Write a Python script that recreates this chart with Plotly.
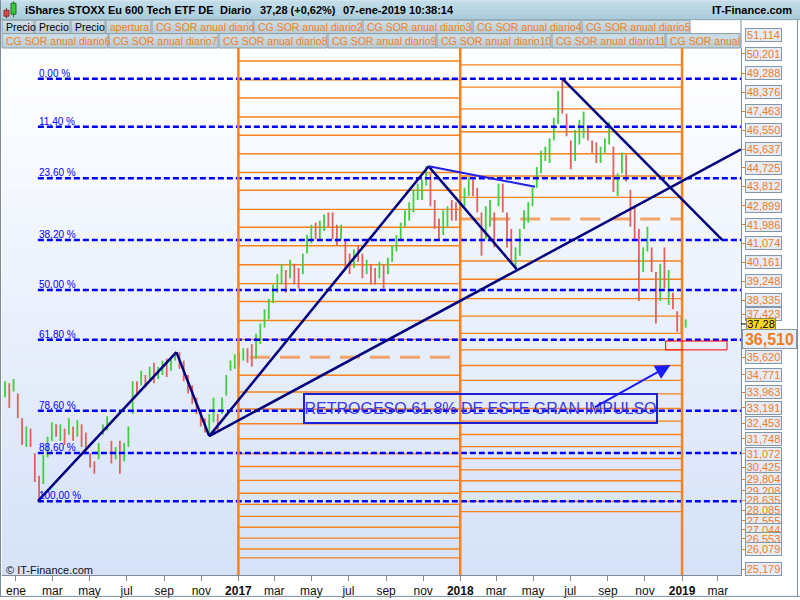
import plotly.graph_objects as go
import pandas as pd

# ---------------- data ----------------
week_start = "2015-12-14"
wk_low = [33.7, 33.2, 34.0, 32.7, 31.4, 31.3, 31.3, 29.6, 28.67, 29.5,
          30.8, 31.6, 31.8, 31.6, 31.4, 31.9, 31.6, 31.8, 31.3, 31.0,
          30.3, 30.0, 30.7, 31.9, 32.1, 30.5, 30.7, 30.0, 30.6, 31.3,
          32.9, 33.8, 34.3, 34.2, 34.6, 34.4, 34.6, 34.8, 34.7, 35.0,
          35.5, 35.1, 34.5, 33.9, 33.4, 32.9, 32.3, 32.0, 31.83, 32.5,
          32.1, 32.9, 33.8, 35.0, 35.1, 35.2, 35.5, 35.4, 35.2, 35.6,
          36.3, 37.1, 37.5, 38.3, 38.8, 39.2, 38.8, 39.5, 39.2, 39.0,
          39.7, 40.7, 41.2, 41.4, 41.3, 41.8, 42.0, 41.4, 41.1, 41.4,
          40.0, 39.7, 40.0, 40.3, 39.5, 39.7, 39.2, 39.2, 39.5, 39.0,
          39.7, 40.3, 40.8, 41.4, 42.0, 42.3, 42.7, 43.3, 43.3, 44.0,
          43.0, 41.9, 41.4, 41.6, 42.0, 42.3, 42.3, 42.5, 43.0, 43.5,
          43.5, 42.7, 40.6, 41.4, 42.0, 41.0, 43.0, 42.7, 41.0, 40.2,
          39.94, 40.6, 41.9, 42.2, 43.0, 43.9, 44.6, 45.2, 45.1, 46.2,
          47.0, 47.5, 46.4, 44.8, 45.2, 46.0, 46.3, 46.2, 45.6, 45.1,
          45.1, 45.6, 46.0, 43.7, 43.5, 44.6, 44.2, 42.0, 41.4, 38.4,
          39.8, 40.8, 39.8, 37.3, 38.4, 39.0, 38.2, 38.0, 36.9, 36.8,
          37.1]
wk_high = [34.5, 34.4, 34.6, 33.9, 32.7, 32.3, 32.2, 31.0, 29.9, 30.9,
           31.8, 32.5, 32.4, 32.4, 32.2, 32.7, 32.3, 32.6, 32.4, 32.0,
           31.0, 30.6, 31.5, 32.4, 32.8, 31.6, 31.3, 31.6, 31.5, 32.3,
           34.5, 34.5, 35.0, 34.8, 35.2, 35.4, 35.2, 35.5, 35.6, 35.6,
           35.91, 35.9, 35.5, 34.8, 34.3, 33.7, 33.1, 32.7, 32.9, 33.7,
           32.9, 33.7, 34.8, 35.5, 35.8, 35.9, 36.1, 36.1, 36.3, 36.8,
           37.3, 38.0, 38.5, 39.2, 39.7, 40.2, 39.9, 40.4, 40.2, 40.0,
           40.7, 41.6, 42.1, 42.2, 42.3, 42.6, 42.7, 42.7, 42.1, 42.1,
           41.4, 40.7, 40.9, 41.1, 40.7, 40.4, 40.2, 40.0, 40.3, 40.2,
           40.5, 41.1, 41.6, 42.2, 42.8, 43.2, 43.8, 44.1, 44.3, 44.94,
           44.6, 43.3, 42.4, 42.8, 43.0, 43.3, 43.2, 43.3, 43.9, 44.4,
           44.3, 43.9, 42.7, 43.0, 43.3, 42.7, 44.1, 44.1, 42.7, 41.9,
           41.0, 41.9, 42.8, 43.2, 43.9, 44.9, 45.7, 45.9, 46.3, 47.3,
           48.6, 49.2, 47.5, 46.2, 46.7, 47.2, 47.6, 46.8, 46.2, 46.1,
           45.9, 46.3, 47.1, 45.9, 44.6, 45.6, 45.5, 43.8, 43.0, 41.9,
           41.0, 42.0, 41.0, 39.8, 40.2, 41.0, 39.9, 38.8, 37.9, 37.6,
           37.5]
wk_close = [34.2, 33.6, 34.4, 33.0, 31.9, 31.9, 31.6, 30.0, 29.6, 30.8,
            31.0, 32.3, 32.0, 32.3, 31.8, 32.4, 31.8, 32.5, 31.7, 31.2,
            30.5, 30.2, 31.3, 32.3, 32.5, 30.9, 31.2, 30.3, 31.4, 32.2,
            34.3, 34.1, 34.8, 34.7, 35.1, 34.9, 34.9, 35.3, 35.0, 35.5,
            35.8, 35.6, 34.8, 34.4, 33.6, 33.1, 32.5, 32.3, 32.6, 33.5,
            32.5, 33.6, 34.6, 35.4, 35.6, 35.8, 35.9, 35.6, 35.5, 36.7,
            37.2, 37.9, 38.2, 39.0, 39.1, 40.0, 39.2, 40.1, 39.6, 39.4,
            40.6, 41.4, 42.0, 41.8, 42.1, 42.5, 42.4, 41.6, 41.5, 41.7,
            40.3, 40.0, 40.8, 40.5, 39.8, 40.2, 39.5, 39.4, 40.0, 39.6,
            40.3, 40.9, 41.4, 42.1, 42.7, 43.0, 43.4, 43.9, 44.1, 44.5,
            43.3, 42.2, 41.6, 42.6, 42.8, 42.6, 42.4, 43.2, 43.7, 44.2,
            43.8, 42.9, 41.2, 42.6, 42.8, 41.6, 43.8, 43.0, 41.3, 40.5,
            40.8, 41.7, 42.6, 42.9, 43.7, 44.7, 45.4, 45.5, 46.0, 47.0,
            48.2, 47.8, 46.7, 45.6, 46.4, 46.9, 47.2, 46.4, 45.8, 45.3,
            45.8, 46.2, 46.8, 44.0, 44.3, 45.2, 44.4, 42.3, 41.8, 39.2,
            40.7, 41.3, 40.1, 38.3, 39.8, 39.2, 39.4, 38.1, 37.2, 37.0,
            37.28]
last_price = 37.28

# annual "CG SOR" levels per year column
lv2017 = [50.06, 49.14, 48.26, 47.34, 46.45, 45.55, 44.64, 43.78, 42.85, 41.98,
          41.08, 40.16, 39.24, 38.37, 37.45, 36.53, 34.79, 33.97, 33.15, 32.43,
          31.70, 30.98, 30.35, 29.68, 29.05, 28.51, 27.93, 27.40, 26.87, 26.34, 25.91]
lv2017_dash = 35.66
lv2017_dash_span = ["2017-01-20", "2017-12-19"]
lv2018 = [49.87, 48.79, 47.73, 46.62, 45.55, 44.47, 43.43, 40.34, 39.45, 38.51,
          37.66, 36.82, 36.02, 35.26, 34.54, 33.88, 33.17, 32.56, 31.91, 31.32,
          30.74, 30.19, 29.66, 29.13, 28.66, 28.16]
lv2018_dash = 42.38
lv2018_dash_span = ["2018-01-01", "2018-12-31"]
year_starts = ["2017-01-01", "2018-01-01", "2019-01-01"]

# right axis level labels
axis_labels = ["51,114", "50,201", "49,288", "48,376", "47,463", "46,550", "45,637",
               "44,725", "43,812", "42,899", "41,986", "41,074", "40,161", "39,248",
               "38,335", "37,423", "36,510", "35,620", "34,771", "33,963", "33,191",
               "32,453", "31,748", "31,072", "30,425", "29,804", "29,208", "28,635",
               "28,085", "27,555", "27,044", "26,553", "26,079", "25,179"]
axis_label_pos = [51.32, 50.40, 49.47, 48.55, 47.61, 46.69, 45.78, 44.88, 43.96, 43.02,
                  42.10, 41.19, 40.27, 39.35, 38.43, 37.74, 36.57, 35.67, 34.82, 33.97,
                  33.20, 32.45, 31.70, 30.98, 30.32, 29.74, 29.17, 28.71, 28.23, 27.72,
                  27.28, 26.85, 26.32, 25.35]
big_label = "36,510"

# Fibonacci retracement
fib_pcts = [0, 11.4, 23.6, 38.2, 50, 61.8, 78.6, 88.6, 100]
fib_texts = ["0,00 %", "11,40 %", "23,60 %", "38,20 %", "50,00 %", "61,80 %",
             "78,60 %", "88,60 %", "100,00 %"]
fib_high, fib_low = 49.20, 28.67
fib_start = "2016-02-06"

# trend lines (navy) : (date0, price0, date1, price1)
trend_lines = [("2016-02-06", 28.67, "2016-09-21", 35.91),
               ("2016-09-21", 35.91, "2016-11-14", 31.83),
               ("2016-11-14", 31.83, "2017-11-10", 44.94),
               ("2016-11-14", 31.83, "2019-04-08", 45.76),
               ("2017-11-10", 44.94, "2018-04-04", 39.94),
               ("2018-06-18", 49.20, "2019-03-08", 41.36)]
thin_line = ("2017-11-10", 44.94, "2018-05-04", 43.95)

red_box = ("2018-12-05", 36.02, "2019-03-16", 36.45)
note_text = "RETROGESO 61.8% DE ESTE GRAN IMPULSO"
note_center = ("2018-02-04", 33.15)
arrow_tail = ("2018-08-08", 33.2)
arrow_head = ("2018-12-13", 35.29)

x_range = ["2015-12-09", "2019-04-08"]
y_range = [25.08, 50.69]

tick_dates = ["2016-01-01", "2016-03-01", "2016-05-01", "2016-07-01", "2016-09-01", "2016-11-01",
              "2017-01-01", "2017-03-01", "2017-05-01", "2017-07-01", "2017-09-01", "2017-11-01",
              "2018-01-01", "2018-03-01", "2018-05-01", "2018-07-01", "2018-09-01", "2018-11-01",
              "2019-01-01", "2019-03-01"]
tick_text = ["ene", "mar", "may", "jul", "sep", "nov", "<b>2017</b>", "mar", "may", "jul", "sep", "nov",
             "<b>2018</b>", "mar", "may", "jul", "sep", "nov", "<b>2019</b>", "mar"]

legend_row1 = [("Precio", 2, 34, "#000000"), ("Precio", 35, 70, "#000000"), ("Precio", 71, 105, "#000000"),
               ("apertura", 106, 151, "#f0801e"), ("CG SOR anual diario", 152, 253, "#f0801e"),
               ("CG SOR anual diario2", 254, 362, "#f0801e"), ("CG SOR anual diario3", 363, 472, "#f0801e"),
               ("CG SOR anual diario4", 473, 581, "#f0801e"), ("CG SOR anual diario5", 582, 690, "#f0801e")]
legend_row2 = [("CG SOR anual diario6", 2, 108), ("CG SOR anual diario7", 109, 218),
               ("CG SOR anual diario8", 219, 327), ("CG SOR anual diario9", 328, 436),
               ("CG SOR anual diario10", 437, 551), ("CG SOR anual diario11", 552, 665),
               ("CG SOR anual", 666, 740)]

# ---------------- geometry helpers ----------------
W, H = 800, 600
ML, MR, MT, MB = 2, 59, 48, 22
PW, PH = W - ML - MR, H - MT - MB
FONT = "Liberation Sans, Arial, sans-serif"


def px(x):
    return (x - ML) / PW


def py(y):
    return (H - MB - y) / PH


def yv_paper(v):
    return (v - y_range[0]) / (y_range[1] - y_range[0])


def lerp(c1, c2, t):
    return "rgb(%d,%d,%d)" % tuple(round(a + (b - a) * t) for a, b in zip(c1, c2))


def grad_rects(x0, y0, x1, y1, c_top, c_bot, n):
    out = []
    h = (y1 - y0) / n
    for k in range(n):
        out.append(dict(type="rect", xref="paper", yref="paper", x0=px(x0), x1=px(x1),
                        y0=py(min(y1, y0 + (k + 1) * h + 0.6)), y1=py(y0 + k * h),
                        fillcolor=lerp(c_top, c_bot, (k + 0.5) / n), line=dict(width=0), layer="below"))
    return out


def rect_px(x0, y0, x1, y1, fill=None, line_color=None, lw=1, layer="below"):
    return dict(type="rect", xref="paper", yref="paper", x0=px(x0), x1=px(x1), y0=py(y1), y1=py(y0),
                fillcolor=fill if fill else "rgba(0,0,0,0)",
                line=dict(width=lw if line_color else 0, color=line_color or "rgba(0,0,0,0)"), layer=layer)


def line_px(x0, y0, x1, y1, color, lw=1):
    return dict(type="line", xref="paper", yref="paper", x0=px(x0), x1=px(x1), y0=py(y0), y1=py(y1),
                line=dict(color=color, width=lw), layer="above")


def text_px(x, y, text, size=11, color="#000", xanchor="left", bold=False):
    return dict(xref="paper", yref="paper", x=px(x), y=py(y), text=("<b>%s</b>" % text) if bold else text,
                showarrow=False, xanchor=xanchor, yanchor="middle",
                font=dict(size=size, color=color, family=FONT))


def hsegs(levels, x0, x1):
    xs, ys = [], []
    for v in levels:
        xs += [x0, x1, None]
        ys += [v, v, None]
    return xs, ys


# ---------------- figure ----------------
fig = go.Figure()

weeks = pd.date_range(week_start, periods=len(wk_close), freq="7D")

# annual level grids
xs, ys = hsegs(lv2017, year_starts[0], year_starts[1])
fig.add_trace(go.Scatter(x=xs, y=ys, mode="lines", line=dict(color="#f5821f", width=1.4), hoverinfo="skip"))
xs, ys = hsegs(lv2018, year_starts[1], year_starts[2])
fig.add_trace(go.Scatter(x=xs, y=ys, mode="lines", line=dict(color="#f5821f", width=1.4), hoverinfo="skip"))
fig.add_trace(go.Scatter(x=lv2017_dash_span, y=[lv2017_dash] * 2, mode="lines",
                         line=dict(color="rgba(242,150,80,0.85)", width=3, dash="20px,10px"), hoverinfo="skip"))
fig.add_trace(go.Scatter(x=lv2018_dash_span, y=[lv2018_dash] * 2, mode="lines",
                         line=dict(color="rgba(242,150,80,0.85)", width=3, dash="20px,10px"), hoverinfo="skip"))

# price bars (weekly high-low strokes, coloured by direction)
up_x, up_y, dn_x, dn_y = [], [], [], []
prev = wk_close[0]
for d, lo, hi, c in zip(weeks, wk_low, wk_high, wk_close):
    if c >= prev:
        up_x += [d, d, None]
        up_y += [lo, hi, None]
    else:
        dn_x += [d, d, None]
        dn_y += [lo, hi, None]
    prev = c
fig.add_trace(go.Scatter(x=up_x, y=up_y, mode="lines", line=dict(color="#3fcf3f", width=1.8), hoverinfo="skip"))
fig.add_trace(go.Scatter(x=dn_x, y=dn_y, mode="lines", line=dict(color="#e0625e", width=1.8), hoverinfo="skip"))

# Fibonacci lines
fib_levels = [fib_high - p / 100.0 * (fib_high - fib_low) for p in fib_pcts]
xs, ys = hsegs(fib_levels, fib_start, x_range[1])
fig.add_trace(go.Scatter(x=xs, y=ys, mode="lines", line=dict(color="#0000ff", width=2.5, dash="6px,3px"),
                         hoverinfo="skip"))

# year separators
xs, ys = [], []
for d in year_starts:
    xs += [d, d, None]
    ys += [y_range[0], y_range[1], None]
fig.add_trace(go.Scatter(x=xs, y=ys, mode="lines", line=dict(color="#f5821f", width=2.5), hoverinfo="skip"))

# trend lines
xs, ys = [], []
for d0, p0, d1, p1 in trend_lines:
    xs += [d0, d1, None]
    ys += [p0, p1, None]
fig.add_trace(go.Scatter(x=xs, y=ys, mode="lines", line=dict(color="#00007f", width=2.5), hoverinfo="skip"))
fig.add_trace(go.Scatter(x=[thin_line[0], thin_line[2]], y=[thin_line[1], thin_line[3]], mode="lines",
                         line=dict(color="#2020e6", width=2), hoverinfo="skip"))

shapes = []
annos = []

# plot background gradient
shapes += grad_rects(ML, MT, W - MR, H - MB, (255, 255, 255), (214, 226, 248), 30)

# header title bar
shapes += grad_rects(0, 0, 800, 19.5, (196, 223, 234), (168, 202, 218), 6)
shapes.append(line_px(0, 19.5, 800, 19.5, "#8fa5b0"))
# candle icon
shapes.append(line_px(6.5, 8, 6.5, 18, "#803030"))
shapes.append(rect_px(4, 10, 9, 16, fill="#e04848", line_color="#803030", layer="above"))
shapes.append(line_px(13.5, 1, 13.5, 17, "#207020"))
shapes.append(rect_px(11, 3, 16, 14, fill="#38c838", line_color="#207020", layer="above"))

annos.append(text_px(23, 10, "iShares STOXX Eu 600 Tech ETF DE", 11, "#000", bold=True))
annos.append(text_px(218, 10, "Diario", 11, "#000", bold=True))
annos.append(text_px(258, 10, "37,28 (+0,62%)", 11, "#000", bold=True))
annos.append(text_px(341, 10, "07-ene-2019 10:38:14", 11, "#000", bold=True))
annos.append(text_px(794, 10, "IT-Finance.com", 11, "#000", xanchor="right", bold=True))

# legend rows
for txt, x0, x1, col in legend_row1:
    shapes += grad_rects(x0, 20, x1, 33.5, (207, 223, 231), (184, 203, 213), 3)
    shapes.append(rect_px(x0, 20, x1, 33.5, line_color="#8aa0ab"))
    annos.append(text_px(x0 + 2, 27, txt, 10.5, col))
for txt, x0, x1 in legend_row2:
    shapes += grad_rects(x0, 33.5, x1, 48, (207, 223, 231), (184, 203, 213), 3)
    shapes.append(rect_px(x0, 33.5, x1, 48, line_color="#8aa0ab"))
    annos.append(text_px(x0 + 2, 41, txt, 10.5, "#f0801e"))

# frames
shapes.append(line_px(741, 20, 741, 48, "#7d8c99"))
shapes.append(line_px(797.5, 20, 797.5, 600, "#7d8c99"))
shapes.append(line_px(0.5, 0, 0.5, 600, "#7d8c99"))
shapes.append(line_px(0, 599.5, 800, 599.5, "#7d8c99"))

# red target box
shapes.append(dict(type="rect", xref="x", yref="y", x0=red_box[0], x1=red_box[2], y0=red_box[1], y1=red_box[3],
                   line=dict(color="#ff0000", width=1), fillcolor="rgba(0,0,0,0)", layer="above"))

# black last price tick
shapes.append(dict(type="line", xref="paper", yref="y", x0=px(741), x1=px(746), y0=last_price, y1=last_price,
                   line=dict(color="#000", width=1), layer="above"))

# fib labels
for lv, t in zip(fib_levels, fib_texts):
    annos.append(dict(x=fib_start, y=lv, xref="x", yref="y", text=t, showarrow=False, xanchor="left",
                      yanchor="bottom", yshift=-2, xshift=-1, font=dict(size=10, color="#0000ff", family=FONT)))

# note box and arrow
annos.append(dict(x=note_center[0], y=note_center[1], xref="x", yref="y", text=note_text, showarrow=False,
                  width=351, height=27, bordercolor="#1f1fd6", borderwidth=2, borderpad=0,
                  font=dict(size=16, color="#3838ee", family=FONT)))
annos.append(dict(x=arrow_head[0], y=arrow_head[1], ax=arrow_tail[0], ay=arrow_tail[1], xref="x", yref="y",
                  axref="x", ayref="y", text="", showarrow=True, arrowhead=2, arrowsize=1.5, arrowwidth=2,
                  arrowcolor="#1a1aff"))

# right axis labels (positioned in paper units converted from their price so that
# labels above the visible price range are still shown)
for t, v in zip(axis_labels, axis_label_pos):
    if t == big_label:
        continue
    annos.append(dict(xref="paper", yref="paper", x=px(763.5), y=yv_paper(v), text=t, showarrow=False,
                      xanchor="center", yanchor="middle", width=35, borderpad=0, bgcolor="#e6ecf7",
                      bordercolor="#8797a5", borderwidth=1, font=dict(size=11, color="#f07c1e", family=FONT)))
annos.append(dict(xref="paper", yref="y", x=px(760.5), y=last_price, text=str(last_price).replace(".", ","),
                  showarrow=False, xanchor="center", yanchor="middle", width=28, height=10, borderpad=0,
                  bgcolor="#fcd820", bordercolor="#8a8a5a", borderwidth=1,
                  font=dict(size=11, color="#000", family=FONT)))
big_v = axis_label_pos[axis_labels.index(big_label)]
annos.append(dict(xref="paper", yref="y", x=px(769.5), y=big_v, text="<b>%s</b>" % big_label, showarrow=False,
                  xanchor="center", yanchor="middle", width=53, height=18, borderpad=0, bgcolor="#e8eef8",
                  bordercolor="#8797a5", borderwidth=1, font=dict(size=16, color="#f07c1e", family=FONT)))

annos.append(text_px(4, 573, "© IT-Finance.com", 11, "#111"))

fig.update_layout(
    width=W, height=H, margin=dict(l=ML, r=MR, t=MT, b=MB, pad=0),
    paper_bgcolor="white", plot_bgcolor="rgba(0,0,0,0)", showlegend=False,
    font=dict(family=FONT),
    shapes=shapes, annotations=annos,
    xaxis=dict(type="date", range=x_range, showgrid=False, zeroline=False, showline=True,
               linecolor="#7d8c99", linewidth=1, ticks="outside", ticklen=5, tickcolor="#7d8c99",
               tickvals=tick_dates, ticktext=tick_text, tickfont=dict(size=12, color="#111", family=FONT)),
    yaxis=dict(range=y_range, side="right", showgrid=False, zeroline=False, showline=True,
               linecolor="#7d8c99", linewidth=1, ticks="outside", ticklen=4, tickcolor="#f08020",
               tickvals=axis_label_pos, showticklabels=False),
)

fig.write_html("out.html", config={"displayModeBar": False},
               post_script="document.body.style.margin='0';document.body.style.overflow='hidden';")
